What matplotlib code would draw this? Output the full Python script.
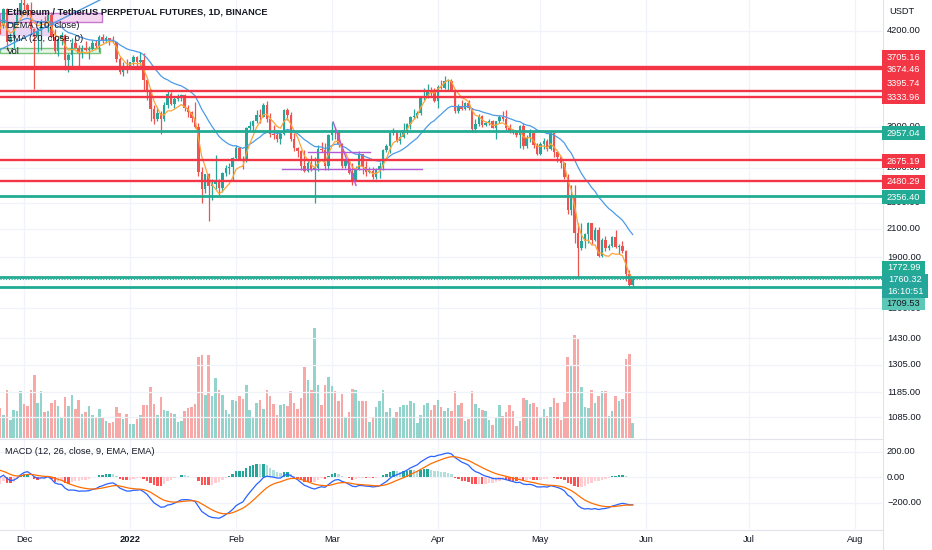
import numpy as np
import pandas as pd
import matplotlib
matplotlib.use('Agg')
import matplotlib.pyplot as plt
from matplotlib.patches import Rectangle

plt.rcParams['font.family'] = ['Liberation Sans', 'DejaVu Sans']

W, H = 932, 550

# ---- data (ETHUSDT perp, daily) ----
# closes before the first visible bar, only used to warm up the indicators
warmup_close = [3310, 3390, 3420, 3380, 3520, 3580, 3590, 3560, 3580, 3415, 3540, 3490, 3600, 3790, 3870, 3830,
                3850, 3750, 3880, 4160, 4060, 3970, 4170, 4080, 4220, 4130, 3930, 4290, 4420, 4320, 4290,
                4320, 4590, 4605, 4530, 4480, 4520, 4610, 4810, 4730, 4640, 4730, 4670, 4650, 4630, 4570,
                4220, 4290, 3990, 4300, 4440, 4250, 4080, 4340]

first_day = '2021-11-24'

opens = [4337, 4270, 4525, 4040, 4095, 4295, 4445,
         4630, 4590, 4515, 4230, 4120, 4195, 4350, 4310, 4435, 4115, 3910, 4085, 4135, 3785, 3860, 4020,
         3960, 3880, 3960, 3920, 3940, 4020, 3980, 4110, 4050, 4100, 4070, 4040, 3800, 3630, 3710,
         3680, 3770, 3830, 3765, 3790, 3540, 3410, 3195, 3080, 3150, 3080, 3240, 3370, 3250, 3310, 3330,
         3350, 3210, 3160, 3090, 3000, 2560, 2410, 2540, 2440, 2460, 2470, 2420, 2550, 2600, 2610,
         2690, 2790, 2680, 2660, 2990, 3010, 3060, 3130, 3110, 3240, 3080, 2930, 2920, 2880, 2930, 3180,
         3130, 2880, 2790, 2760, 2620, 2570, 2640, 2580, 2600, 2780, 2770, 2620,
         2920, 2970, 2950, 2830, 2620, 2660, 2550, 2490, 2580, 2730, 2610, 2560, 2570, 2520, 2590, 2620,
         2770, 2810, 2940, 2950, 2860, 2900, 2970, 3030, 3110, 3110, 3150, 3330, 3330, 3400, 3390,
         3280, 3450, 3440, 3520, 3520, 3410, 3170, 3230, 3190, 3260, 3210, 2980, 3030, 3120, 3020, 3040,
         3060, 2990, 3060, 3100, 3080, 2990, 2960, 2940, 2920, 3010, 2810, 2890, 2940, 2820,
         2730, 2830, 2860, 2780, 2940, 2750, 2700, 2640, 2520, 2240, 2340, 2070, 1960, 2010, 2060, 2140,
         2020, 2090, 1910, 2020, 1960, 1980, 2040, 1970, 1980, 1940, 1790, 1725]

highs = [4370, 4550, 4550, 4170, 4300, 4460, 4780,
         4780, 4635, 4650, 4240, 4240, 4375, 4420, 4445, 4490, 4230, 4100, 4180, 4150, 3880, 4100, 4090,
         3990, 4000, 4050, 3975, 4060, 4060, 4140, 4150, 4130, 4100, 4130, 4040, 3830, 3770, 3810,
         3770, 3860, 3850, 3900, 3880, 3560, 3420, 3240, 3215, 3170, 3270, 3410, 3385, 3340, 3365, 3370,
         3360, 3235, 3170, 3270, 3040, 2610, 2545, 2550, 2500, 2720, 2500, 2560, 2625, 2640, 2700,
         2815, 2800, 2710, 2995, 3060, 3070, 3180, 3190, 3260, 3280, 3150, 3020, 2970, 2950, 3190, 3200,
         3160, 2940, 2800, 2770, 2770, 2680, 2720, 2700, 2820, 2850, 2840, 2930,
         3050, 3000, 2970, 2840, 2680, 2670, 2640, 2620, 2760, 2730, 2660, 2610, 2610, 2600, 2650, 2780,
         2830, 2950, 2990, 2960, 2950, 3040, 3040, 3120, 3190, 3170, 3330, 3440, 3480, 3450, 3440,
         3470, 3530, 3580, 3550, 3550, 3410, 3250, 3300, 3270, 3300, 3210, 3080, 3140, 3130, 3060, 3080,
         3070, 3060, 3130, 3170, 3180, 3030, 2980, 2960, 3020, 3040, 2920, 2980, 2950, 2840,
         2850, 2890, 2880, 2960, 2950, 2760, 2710, 2650, 2540, 2450, 2450, 2140, 2140, 2070, 2150, 2140,
         2110, 2110, 2030, 2050, 1990, 2050, 2090, 1990, 2010, 1950, 1820, 1765]

lows = [4160, 4245, 3920, 4040, 3960, 4280, 4430,
        4510, 4430, 4150, 3420, 3900, 3925, 4270, 4185, 4090, 3885, 3840, 3990, 3660, 3640, 3700, 3950,
        3680, 3820, 3910, 3810, 3910, 3950, 3900, 4030, 4030, 3990, 4030, 3760, 3605, 3590, 3620,
        3680, 3725, 3700, 3720, 3400, 3300, 3060, 3030, 3060, 2930, 3060, 3210, 3240, 3200, 3280, 3280,
        3170, 3100, 3055, 2990, 2530, 2300, 2380, 2160, 2320, 2410, 2360, 2390, 2530, 2540, 2490,
        2680, 2670, 2590, 2650, 2970, 2955, 3040, 3040, 3100, 3050, 2900, 2880, 2850, 2830, 2920, 3070,
        2860, 2760, 2700, 2580, 2560, 2560, 2570, 2300, 2570, 2750, 2580, 2580,
        2870, 2880, 2800, 2600, 2600, 2540, 2450, 2480, 2580, 2540, 2530, 2550, 2500, 2500, 2510, 2580,
        2750, 2740, 2920, 2850, 2830, 2890, 2930, 2980, 3080, 3090, 3130, 3300, 3320, 3340, 3270,
        3210, 3430, 3420, 3410, 3400, 3150, 3150, 3180, 3180, 3180, 2950, 2950, 3010, 3000, 3010, 3020,
        2990, 2880, 3040, 3060, 2970, 2940, 2930, 2900, 2790, 2780, 2790, 2850, 2790, 2720,
        2720, 2780, 2760, 2770, 2700, 2650, 2600, 2500, 2210, 2200, 2000, 1775, 1950, 1960, 2000, 1990,
        2010, 1900, 1900, 1940, 1950, 1970, 1960, 1920, 1930, 1750, 1710, 1715]

closes = [4270, 4525, 4040, 4095, 4295, 4445, 4630,
          4590, 4515, 4230, 4120, 4195, 4350, 4310, 4435, 4115, 3910, 4085, 4135, 3785, 3860, 4020, 3960,
          3880, 3960, 3920, 3940, 4020, 3980, 4110, 4050, 4100, 4070, 4040, 3800, 3630, 3710, 3680,
          3770, 3830, 3765, 3790, 3540, 3410, 3195, 3080, 3150, 3080, 3240, 3370, 3250, 3310, 3330, 3350,
          3210, 3160, 3090, 3000, 2560, 2410, 2540, 2440, 2460, 2470, 2420, 2550, 2600, 2610, 2690,
          2790, 2680, 2660, 2990, 3010, 3060, 3130, 3110, 3240, 3080, 2930, 2920, 2880, 2930, 3180, 3130,
          2880, 2790, 2760, 2620, 2570, 2640, 2580, 2600, 2780, 2770, 2620, 2920,
          2970, 2950, 2830, 2620, 2660, 2550, 2490, 2580, 2730, 2610, 2560, 2570, 2520, 2590, 2620, 2770,
          2810, 2940, 2950, 2860, 2900, 2970, 3030, 3110, 3110, 3150, 3330, 3330, 3400, 3390, 3280,
          3450, 3440, 3520, 3520, 3410, 3170, 3230, 3190, 3260, 3210, 2980, 3030, 3120, 3020, 3040, 3060,
          2990, 3060, 3100, 3080, 2990, 2960, 2940, 2920, 3010, 2810, 2890, 2940, 2820, 2730,
          2830, 2860, 2780, 2940, 2750, 2700, 2640, 2520, 2240, 2340, 2070, 1960, 2010, 2060, 2140, 2020,
          2090, 1910, 2020, 1960, 1980, 2040, 1970, 1980, 1940, 1790, 1725, 1760]

volume = [30,
          23, 48, 18, 28, 27, 47, 34, 32, 48, 63,
          35, 47, 26, 27, 35, 38, 32, 20, 41, 32,
          43, 29, 38, 24, 26, 32, 23, 21, 29, 20,
          17, 15, 16, 31, 25, 19, 24, 14, 14, 19,
          23, 33, 33, 51, 34, 23, 41, 28, 27, 25,
          24, 16, 17, 27, 30, 31, 34, 81, 83, 43,
          83, 42, 60, 48, 43, 28, 24, 38, 37, 42,
          39, 53, 28, 21, 35, 38, 29, 48, 42, 34,
          23, 33, 34, 32, 47, 35, 29, 40, 71, 58,
          48, 110, 53, 33, 53, 61, 52, 47, 37, 44,
          20, 26, 49, 48, 37, 37, 37, 16, 21, 31,
          37, 48, 26, 30, 21, 26, 31, 33, 33, 37,
          35, 15, 23, 33, 35, 28, 33, 38, 31, 27,
          30, 27, 47, 33, 35, 17, 19, 47, 34, 30,
          28,
          27, 18, 13, 20, 33, 22, 26, 33, 27, 12,
          17, 40, 38, 34, 35, 31, 21, 29, 22, 31,
          40, 35, 18, 36, 81, 72, 103, 100, 51, 31,
          30, 48, 35, 42, 47, 47, 22, 27, 42, 37,
          39, 79, 84, 15]

red_levels = [3705.16, 3674.46, 3395.74, 3333.96, 2675.19, 2480.29]
green_levels = [2957.04, 2356.40, 1772.99, 1709.53]
last_price = 1760.32
countdown = '16:10:51'

price_ticks = [4200, 3000, 2600, 2300, 2100, 1900, 1590, 1430, 1305, 1185, 1085]
macd_ticks = [200, 0, -200]
month_starts = ['2021-12-01', '2022-01-01', '2022-02-01', '2022-03-01', '2022-04-01',
                '2022-05-01', '2022-06-01', '2022-07-01', '2022-08-01']
month_labels = ['Dec', '2022', 'Feb', 'Mar', 'Apr', 'May', 'Jun', 'Jul', 'Aug']

# user drawings: (day0, price0, day1, price1)
purple_lines = [(83.0, 2745, 101.2, 2745), (75.4, 2589, 116.4, 2589), (90.4, 3052, 97.1, 2443)]
blue_trend = (-7.0, 3931, 22.2, 4678)
boxes = [(-7.0, 4326, 22.8, 4471, '#f6d3ef', '#c36bd0'),
         (-7.0, 4133, 7.6, 4250, '#e6d2f3', '#e6d2f3'),
         (-7.0, 3890, 22.2, 3958, '#e4f4e4', '#6cc070')]

# ---- derived series ----
origin = pd.Timestamp('2021-12-01')
dates = pd.date_range(first_day, periods=len(closes), freq='D')
x = np.asarray((dates - origin).days, dtype=float)
months = [(pd.Timestamp(m) - origin).days for m in month_starts]

o = np.array(opens, float)
hi = np.array(highs, float)
lo = np.array(lows, float)
c = np.array(closes, float)
k = len(warmup_close)
allc = pd.Series(warmup_close + closes, dtype=float)
ema20 = allc.ewm(span=20, adjust=False).mean().values[k:]
e10 = allc.ewm(span=10, adjust=False).mean()
dema10 = (2 * e10 - e10.ewm(span=10, adjust=False).mean()).values[k:]
macd_full = allc.ewm(span=12, adjust=False).mean() - allc.ewm(span=26, adjust=False).mean()
sig_full = macd_full.ewm(span=9, adjust=False).mean()
hist_full = macd_full - sig_full
macd = macd_full.values[k:]
sig = sig_full.values[k:]
hist = hist_full.values[k:]
hist_prev = hist_full.shift(1).values[k:]

UP, DN = '#26a69a', '#ef5350'
up = c >= o
ccol = np.where(up, UP, DN)
vcol = np.where(up, '#92d3cb', '#f6a9a7')
hcol = []
for h, p in zip(hist, hist_prev):
    if h >= 0:
        hcol.append('#26a69a' if h > p else '#b2dfdb')
    else:
        hcol.append('#ffcdd2' if h > p else '#ff5252')

# ---- layout ----
fig = plt.figure(figsize=(W / 100, H / 100), dpi=100, facecolor='white')


def rect(x0, y0, x1, y1):
    return [x0 / W, 1 - y1 / H, (x1 - x0) / W, (y1 - y0) / H]


XL = (-7.02, 250.9)
vax = fig.add_axes(rect(0, 0, 882, 438))
ax = fig.add_axes(rect(0, 0, 882, 438), sharex=vax)
mx = fig.add_axes(rect(0, 438, 882, 529), sharex=vax)
vax.set_zorder(0)
ax.set_zorder(1)
mx.set_zorder(1)
ax.patch.set_visible(False)
for a in (vax, ax, mx):
    for s in a.spines.values():
        s.set_visible(False)
    a.tick_params(left=False, bottom=False, labelleft=False, labelbottom=False)
vax.set_xlim(*XL)
vax.set_ylim(0, 438)
ax.set_yscale('log')
ax.set_ylim(1009, 4678)
ax.yaxis.set_minor_locator(matplotlib.ticker.NullLocator())
mx.set_ylim(-407.8, 305.9)

GRID = '#f0f3fa'
for m in months:
    vax.axvline(m, color=GRID, lw=0.9, zorder=0)
    mx.axvline(m, color=GRID, lw=0.9, zorder=0)
for t in price_ticks:
    ax.axhline(t, color=GRID, lw=0.9, zorder=0)
for t in macd_ticks:
    mx.axhline(t, color=GRID, lw=0.9, zorder=0)

# volume
vax.bar(x, volume, width=0.74, color=vcol, zorder=1)

# candles
ax.vlines(x, lo, hi, colors=ccol, lw=0.9, zorder=3)
ax.bar(x, np.maximum(np.abs(c - o), 4), bottom=np.minimum(o, c), width=0.72, color=ccol, zorder=3)

ax.plot(x, ema20, color='#4d9be8', lw=0.9, zorder=4)
ax.plot(x, dema10, color='#ffa436', lw=0.9, zorder=4)

# drawings
for lv in red_levels:
    ax.axhline(lv, color='#f23645', lw=1.7, zorder=5)
for lv in green_levels:
    ax.axhline(lv, color='#22ab94', lw=2.0, zorder=5)
ax.axhline(last_price, color='#22ab94', lw=0.8, ls=(0, (1, 1.5)), zorder=5)
for x0, p0, x1, p1 in purple_lines:
    ax.plot([x0, x1], [p0, p1], color='#b45ad6', lw=1.0, zorder=5)
ax.plot([blue_trend[0], blue_trend[2]], [blue_trend[1], blue_trend[3]], color='#4d9be8', lw=1.0, zorder=5)
for x0, p0, x1, p1, fc, ec in boxes:
    ax.add_patch(Rectangle((x0, p0), x1 - x0, p1 - p0, facecolor=fc, edgecolor=ec, lw=1.0,
                           alpha=0.9, zorder=2))

# MACD pane
mx.bar(x, hist, width=0.7, color=hcol, zorder=2)
mx.plot(x, macd, color='#2962ff', lw=0.9, zorder=3)
mx.plot(x, sig, color='#ff6d00', lw=0.9, zorder=3)

# separators
SEP = '#e0e3eb'
fig.add_artist(plt.Line2D([0, 882 / W], [1 - 438.5 / H] * 2, color=SEP, lw=0.8))
fig.add_artist(plt.Line2D([0, 882 / W], [1 - 529.5 / H] * 2, color=SEP, lw=0.8))
fig.add_artist(plt.Line2D([882.5 / W] * 2, [0, 1], color=SEP, lw=0.8))

FS = 6.7
TXT = '#131722'

# axis labels
ax_x = 887 / 882
for t in price_ticks:
    ax.text(ax_x, t, f'{t:.2f}', transform=ax.get_yaxis_transform(), va='center', ha='left',
            fontsize=FS, color=TXT, clip_on=False)
for t in macd_ticks:
    lab = f'{t:.2f}'.replace('-', '\u2212')
    mx.text(ax_x, t, lab, transform=mx.get_yaxis_transform(), va='center', ha='left',
            fontsize=FS, color=TXT, clip_on=False)
for m, lab in zip(months, month_labels):
    mx.text(m, (529 - 540) / 91, lab, transform=mx.get_xaxis_transform(), ha='center', va='center',
            fontsize=FS, color=TXT, fontweight='bold' if lab == '2022' else 'normal', clip_on=False)
fig.text(889 / W, 1 - 12 / H, 'USDT', fontsize=FS, color=TXT, va='center', ha='left')


# price label boxes on the right scale
def tag(y0, y1, fc, lines, fg='white', x1=925):
    fig.add_artist(Rectangle((882 / W, 1 - y1 / H), (x1 - 882) / W, (y1 - y0) / H,
                             transform=fig.transFigure, facecolor=fc, edgecolor='none', zorder=5))
    n = len(lines)
    for i, s in enumerate(lines):
        yc = y0 + (y1 - y0) * (i + 0.5) / n
        t = fig.text((882 + x1) / 2 / W, 1 - yc / H, s, ha='center', va='center', fontsize=FS, color=fg)
        t.set_zorder(6)


RED, GRN = '#f23645', '#22ab94'
label_rows = [(50.5, 63.5, RED, 0), (63.5, 76.5, RED, 1), (77.5, 90.5, RED, 2), (91.5, 104.5, RED, 3),
              (126.5, 139.5, GRN, 0), (154.5, 167.5, RED, 4), (175.5, 188.5, RED, 5), (190.5, 203.5, GRN, 1),
              (260.5, 273.5, GRN, 2)]
for y0, y1, col, idx in label_rows:
    val = red_levels[idx] if col == RED else green_levels[idx]
    tag(y0, y1, col, [f'{val:.2f}'])
tag(274, 298, '#26a69a', [f'{last_price:.2f}', countdown], x1=928)
tag(298, 310, '#5cc9b7', [f'{green_levels[3]:.2f}'], fg=TXT)

# legend texts
fig.text(7 / W, 1 - 12 / H, 'Ethereum / TetherUS PERPETUAL FUTURES, 1D, BINANCE', fontsize=FS,
         fontweight='bold', color=TXT, va='center', ha='left')
fig.text(7 / W, 1 - 25 / H, 'DEMA (10, close)', fontsize=FS, color=TXT, va='center', ha='left')
fig.text(7 / W, 1 - 38.5 / H, 'EMA (20, close, 0)', fontsize=FS, color=TXT, va='center', ha='left')
fig.text(7 / W, 1 - 51 / H, 'Vol', fontsize=FS, color=TXT, va='center', ha='left')
fig.text(5 / W, 1 - 452 / H, 'MACD (12, 26, close, 9, EMA, EMA)', fontsize=FS, color=TXT,
         va='center', ha='left')

fig.savefig('out.png', dpi=100, facecolor='white')
